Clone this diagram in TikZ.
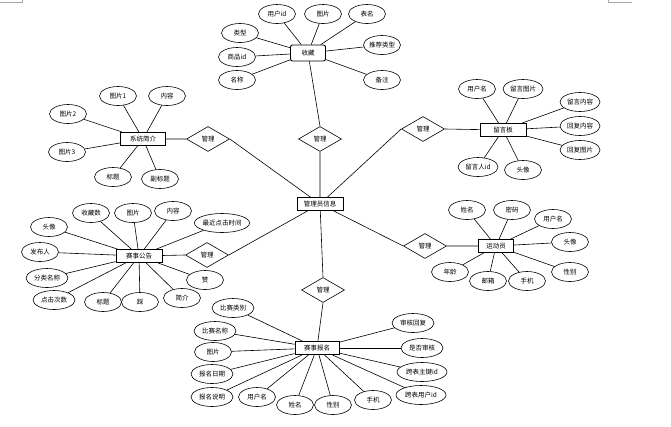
\documentclass[tikz,border=0pt]{standalone}
\usepackage{fontspec}
\setmainfont{Noto Sans CJK SC}
\usetikzlibrary{shapes.geometric}
\begin{document}
\begin{tikzpicture}[x=1pt,y=-1pt,
  every node/.style={font=\fontsize{6.5}{7}\selectfont, inner sep=0pt},
  ent/.style={draw, line width=0.9pt, minimum width=45pt, minimum height=13pt},
  attr/.style={draw, ellipse, line width=0.6pt, minimum width=37pt, minimum height=19pt},
  wattr/.style={attr, minimum width=50pt},
  rel/.style={draw, diamond, line width=0.6pt, minimum width=43pt, minimum height=25pt},
  conn/.style={line width=0.6pt},
  mark line/.style={draw=gray!70, line width=0.5pt}]
\useasboundingbox (0,0) rectangle (671,426);
% page corner marks
\coordinate (m1) at (0,2.5); \coordinate (m2) at (22,2.5); \coordinate (m3) at (22,0);
\coordinate (m4) at (608,0); \coordinate (m5) at (608,2.5); \coordinate (m6) at (632,2.5);
\draw[mark line] (m1) -- (m2) -- (m3);
\draw[mark line] (m4) -- (m5) -- (m6);
% entities
\node[ent, minimum width=46pt] (admin) at (320,204) {管理员信息};
\node[ent, rounded corners=2pt, minimum width=35pt, minimum height=16pt] (sc) at (308,53) {收藏};
\node[ent] (xt) at (143,139) {系统简介};
\node[ent, minimum width=46pt] (ly) at (503,130) {留言板};
\node[ent, minimum width=46pt] (gg) at (139,256) {赛事公告};
\node[ent, minimum width=35pt] (ydy) at (496,246) {运动员};
\node[ent, minimum width=44pt] (bm) at (317,348) {赛事报名};
% relations
\node[rel] (d1) at (320,139) {管理};
\node[rel] (d2) at (208,139) {管理};
\node[rel] (d3) at (423,129) {管理};
\node[rel] (d4) at (207,255) {管理};
\node[rel] (d5) at (425,246) {管理};
\node[rel] (d6) at (323,290) {管理};
\draw[conn] (sc) -- (d1.north) (d1.south) -- (admin);
\draw[conn] (xt) -- (d2.west) (d2.east) -- (admin);
\draw[conn] (ly) -- (d3.east) (d3.west) -- (admin);
\draw[conn] (gg) -- (d4.west) (d4.east) -- (admin);
\draw[conn] (ydy) -- (d5.east) (d5.west) -- (admin);
\draw[conn] (admin) -- (d6.north) (d6.south) -- (bm);
% 收藏
\node[attr] (sc1) at (277,14) {用户id};
\node[attr] (sc2) at (323,14) {图片};
\node[attr] (sc3) at (367,14) {表名};
\node[attr] (sc4) at (240,33) {类型};
\node[attr] (sc5) at (237,57) {商品id};
\node[attr] (sc6) at (237,80) {名称};
\node[attr] (sc7) at (382,45) {推荐类型};
\node[attr] (sc8) at (382,80) {备注};
\foreach \i in {1,...,8} \draw[conn] (sc) -- (sc\i);
% 系统简介
\node[attr] (xt1) at (118,96) {图片1};
\node[attr] (xt2) at (167,96) {内容};
\node[attr] (xt3) at (68,114) {图片2};
\node[attr] (xt4) at (67,152) {图片3};
\node[attr] (xt5) at (113,177) {标题};
\node[attr] (xt6) at (160,179) {副标题};
\foreach \i in {1,...,6} \draw[conn] (xt) -- (xt\i);
% 留言板
\node[attr] (ly1) at (477,89) {用户名};
\node[attr, minimum width=40pt] (ly2) at (523,89) {留言图片};
\node[attr, minimum width=40pt] (ly3) at (580,102) {留言内容};
\node[attr, minimum width=40pt] (ly4) at (580,126) {回复内容};
\node[attr, minimum width=40pt] (ly5) at (580,150) {回复图片};
\node[attr, minimum width=40pt] (ly6) at (478,167) {留言人id};
\node[attr] (ly7) at (523,170) {头像};
\foreach \i in {1,...,7} \draw[conn] (ly) -- (ly\i);
% 赛事公告
\node[attr] (gg1) at (91,213) {收藏数};
\node[attr] (gg2) at (133,213) {图片};
\node[attr] (gg3) at (173,211) {内容};
\node[wattr, minimum width=55pt] (gg4) at (222,223) {最近点击时间};
\node[attr] (gg5) at (49,227) {头像};
\node[attr] (gg6) at (40,252) {发布人};
\node[attr, minimum width=42pt] (gg7) at (47,278) {分类名称};
\node[attr, minimum width=42pt] (gg8) at (54,300) {点击次数};
\node[attr] (gg9) at (103,302) {标题};
\node[attr] (gg10) at (140,302) {踩};
\node[attr] (gg11) at (182,298) {简介};
\node[attr] (gg12) at (205,280) {赞};
\foreach \i in {1,...,12} \draw[conn] (gg) -- (gg\i);
% 运动员
\node[attr] (y1) at (467,210) {姓名};
\node[attr] (y2) at (512,210) {密码};
\node[attr] (y3) at (553,219) {用户名};
\node[attr] (y4) at (570,242) {头像};
\node[attr] (y5) at (570,272) {性别};
\node[attr] (y6) at (450,272) {年龄};
\node[attr] (y7) at (488,281) {邮箱};
\node[attr] (y8) at (527,281) {手机};
\foreach \i in {1,...,8} \draw[conn] (ydy) -- (y\i);
% 赛事报名
\node[attr, minimum width=42pt] (b1) at (233,308) {比赛类别};
\node[attr, minimum width=42pt] (b2) at (215,331) {比赛名称};
\node[attr] (b3) at (213,352) {图片};
\node[attr, minimum width=42pt] (b4) at (212,374) {报名日期};
\node[attr, minimum width=42pt] (b5) at (212,397) {报名说明};
\node[attr] (b6) at (257,397) {用户名};
\node[attr] (b7) at (295,405) {姓名};
\node[attr] (b8) at (333,405) {性别};
\node[attr] (b9) at (373,400) {手机};
\node[attr, minimum width=42pt] (b10) at (413,323) {审核回复};
\node[attr, minimum width=42pt] (b11) at (422,348) {是否审核};
\node[wattr] (b12) at (422,372) {跨表主键id};
\node[wattr] (b13) at (421,395) {跨表用户id};
\foreach \i in {1,...,13} \draw[conn] (bm) -- (b\i);
\end{tikzpicture}
\end{document}
